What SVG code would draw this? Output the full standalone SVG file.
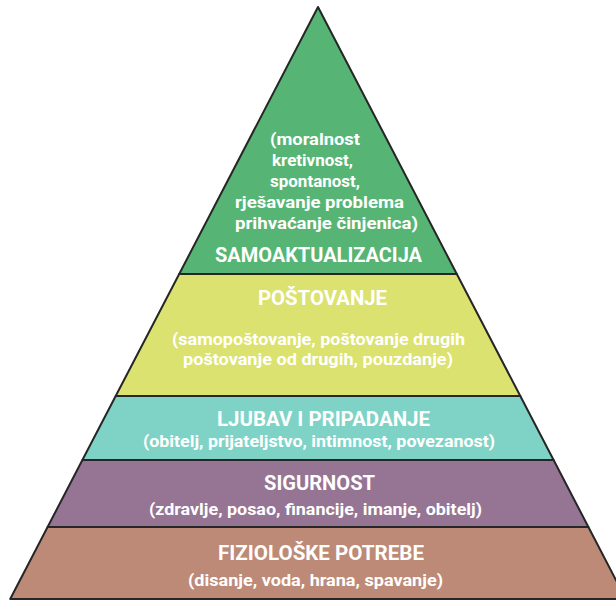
<svg xmlns="http://www.w3.org/2000/svg" width="616" height="602" viewBox="0 0 616 602">
<style>
.layer{stroke:#262626;stroke-width:2;stroke-linejoin:round}
.t{font-family:Roboto,"Liberation Sans",Arial,sans-serif;font-weight:700;fill:#ffffff}
.h{font-size:21px}
.s{font-size:17px}
</style>
<rect width="616" height="602" fill="#ffffff"/>
<g id="samoaktualizacija">
<polygon class="layer" fill="#56b574" points="318,7 456.8,274 179.2,274"/>
<text class="t s" x="270" y="145" textLength="90" lengthAdjust="spacingAndGlyphs">(moralnost</text>
<text class="t s" x="272" y="166" textLength="81" lengthAdjust="spacingAndGlyphs">kretivnost,</text>
<text class="t s" x="270" y="187" textLength="90" lengthAdjust="spacingAndGlyphs">spontanost,</text>
<text class="t s" x="235" y="208" textLength="169" lengthAdjust="spacingAndGlyphs">rješavanje problema</text>
<text class="t s" x="235" y="229" textLength="183" lengthAdjust="spacingAndGlyphs">prihvaćanje činjenica)</text>
<text class="t h" x="215" y="262" textLength="207" lengthAdjust="spacingAndGlyphs">SAMOAKTUALIZACIJA</text>
</g>
<g id="postovanje">
<polygon class="layer" fill="#dbe26f" points="179.2,274 456.8,274 520.3,396 115.7,396"/>
<text class="t h" x="258" y="305" textLength="129" lengthAdjust="spacingAndGlyphs">POŠTOVANJE</text>
<text class="t s" x="172" y="345" textLength="293" lengthAdjust="spacingAndGlyphs">(samopoštovanje, poštovanje drugih</text>
<text class="t s" x="183" y="365" textLength="270" lengthAdjust="spacingAndGlyphs">poštovanje od drugih, pouzdanje)</text>
</g>
<g id="ljubav">
<polygon class="layer" fill="#7ed3c6" points="115.7,396 520.3,396 553.6,460 82.4,460"/>
<text class="t h" x="217" y="426" textLength="213" lengthAdjust="spacingAndGlyphs">LJUBAV I PRIPADANJE</text>
<text class="t s" x="143" y="447" textLength="352" lengthAdjust="spacingAndGlyphs">(obitelj, prijateljstvo, intimnost, povezanost)</text>
</g>
<g id="sigurnost">
<polygon class="layer" fill="#957494" points="82.4,460 553.6,460 588.4,527 47.6,527"/>
<text class="t h" x="264" y="490" textLength="111" lengthAdjust="spacingAndGlyphs">SIGURNOST</text>
<text class="t s" x="149" y="515" textLength="333" lengthAdjust="spacingAndGlyphs">(zdravlje, posao, financije, imanje, obitelj)</text>
</g>
<g id="fizioloske">
<polygon class="layer" fill="#bd8a77" points="47.6,527 588.4,527 625.8,599 10.2,599"/>
<text class="t h" x="218" y="560" textLength="206" lengthAdjust="spacingAndGlyphs">FIZIOLOŠKE POTREBE</text>
<text class="t s" x="188" y="586" textLength="255" lengthAdjust="spacingAndGlyphs">(disanje, voda, hrana, spavanje)</text>
</g>
<g id="connectors"></g>
</svg>
